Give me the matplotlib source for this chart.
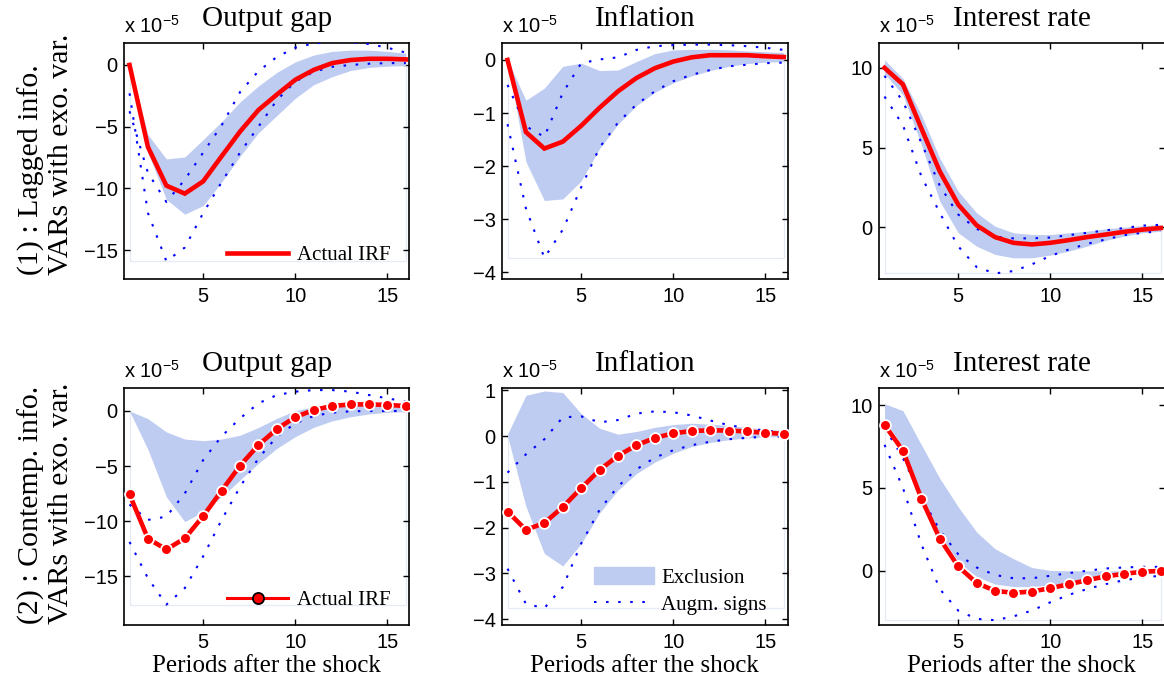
import numpy as np
import matplotlib
matplotlib.use("Agg")
import matplotlib.pyplot as plt
from matplotlib.lines import Line2D
from matplotlib.patches import Patch

plt.rcParams['font.family'] = ['Liberation Sans', 'DejaVu Sans']
plt.rcParams['mathtext.fontset'] = 'custom'
plt.rcParams['mathtext.rm'] = 'Liberation Sans'
plt.rcParams['mathtext.it'] = 'Liberation Sans:italic'
plt.rcParams['mathtext.bf'] = 'Liberation Sans:bold'

SERIF = ['Liberation Serif', 'DejaVu Serif']

# ---------------- data (units of 1e-5) ----------------
periods = np.arange(1, 17)
titles = ["Output gap", "Inflation", "Interest rate"]
row_labels = ["(1) : Lagged info.\nVARs with exo. var.",
              "(2) : Contemp. info.\nVARs with exo. var."]
xticks = [5, 10, 15]

# Row 1: lagged information
og_lag_irf = [0, -6.65, -9.78, -10.43, -9.43, -7.4, -5.4, -3.65, -2.4, -1.2, -0.4, 0.15, 0.4, 0.5, 0.5, 0.45]
og_lag_exhi = [0, -5.65, -7.62, -7.46, -6.05, -4.6, -3.0, -1.7, -0.6, 0.25, 0.8, 1.1, 1.2, 1.2, 1.1, 0.95]
og_lag_exlo = [0, -7.1, -10.9, -12.1, -11.4, -9.5, -7.4, -5.5, -4.1, -2.7, -1.6, -0.95, -0.45, -0.2, -0.1, -0.05]
og_lag_auhi = [-3.75, -8.75, -11.1, -9.3, -7.1, -4.9, -2.2, -0.5, 0.65, 1.4, 1.75, 1.85, 1.85, 1.7, 1.4, 1.0]
og_lag_aulo = [-2.3, -12.0, -15.9, -14.8, -12.0, -9.5, -7.1, -5.0, -2.85, -1.35, -0.55, -0.15, 0.0, 0.1, 0.15, 0.15]

pi_lag_irf = [0, -1.36, -1.67, -1.54, -1.24, -0.9, -0.59, -0.34, -0.155, -0.03, 0.05, 0.09, 0.09, 0.09, 0.07, 0.055]
pi_lag_exhi = [0, -0.76, -0.53, -0.12, -0.06, -0.2, -0.19, -0.03, 0.12, 0.19, 0.2, 0.2, 0.19, 0.17, 0.155, 0.14]
pi_lag_exlo = [0, -1.92, -2.65, -2.62, -2.28, -1.67, -1.21, -0.86, -0.61, -0.43, -0.3, -0.2, -0.12, -0.07, -0.04, -0.03]
pi_lag_auhi = [-0.47, -1.25, -1.45, -0.62, -0.06, 0.01, 0.05, 0.19, 0.26, 0.28, 0.29, 0.29, 0.28, 0.26, 0.23, 0.19]
pi_lag_aulo = [-1.21, -2.8, -3.73, -3.2, -2.4, -1.65, -1.18, -0.84, -0.59, -0.4, -0.28, -0.19, -0.12, -0.09, -0.06, -0.05]

ir_lag_irf = [10.0, 8.96, 6.2, 3.5, 1.42, 0.12, -0.62, -0.98, -1.08, -0.98, -0.81, -0.62, -0.46, -0.29, -0.15, -0.05]
ir_lag_exhi = [10.5, 9.33, 7.04, 4.33, 2.25, 0.9, 0.06, -0.35, -0.46, -0.46, -0.35, -0.25, -0.1, 0.0, 0.1, 0.17]
ir_lag_exlo = [9.65, 8.3, 5.17, 1.63, -0.35, -1.19, -1.71, -1.92, -1.92, -1.75, -1.5, -1.19, -0.83, -0.56, -0.35, -0.25]
ir_lag_auhi = [9.5, 7.9, 5.3, 2.6, 0.8, -0.1, -0.6, -0.7, -0.7, -0.65, -0.5, -0.35, -0.2, -0.05, 0.1, 0.15]
ir_lag_aulo = [8.2, 6.4, 3.2, 0.9, -1.2, -2.5, -2.9, -2.75, -2.33, -1.8, -1.4, -1.04, -0.77, -0.5, -0.35, -0.25]

# Row 2: contemporaneous information
og_con_irf = [-7.58, -11.6, -12.58, -11.58, -9.55, -7.24, -4.97, -3.09, -1.64, -0.55, 0.09, 0.45, 0.6, 0.6, 0.55, 0.45]
og_con_exhi = [0, -0.7, -1.9, -2.55, -2.7, -2.55, -2.2, -1.5, -0.67, 0.03, 0.4, 0.55, 0.55, 0.48, 0.4, 0.3]
og_con_exlo = [0, -3.5, -7.8, -10.06, -9.15, -7.8, -6.27, -4.76, -3.4, -2.33, -1.48, -0.9, -0.52, -0.27, -0.12, -0.06]
og_con_auhi = [-8.5, -9.9, -9.6, -7.5, -4.45, -2.3, -0.67, 0.7, 1.45, 1.76, 1.9, 1.9, 1.76, 1.45, 1.15, 0.85]
og_con_aulo = [-11.9, -15.2, -17.6, -16.1, -13.2, -9.9, -6.9, -4.3, -2.33, -1.12, -0.45, -0.15, -0.03, 0.0, 0.0, 0.0]

pi_con_irf = [-1.65, -2.05, -1.9, -1.55, -1.14, -0.74, -0.43, -0.2, -0.04, 0.06, 0.11, 0.125, 0.12, 0.1, 0.07, 0.05]
pi_con_exhi = [0.04, 0.89, 0.985, 0.95, 0.49, 0.17, 0.04, 0.1, 0.19, 0.25, 0.28, 0.26, 0.23, 0.19, 0.15, 0.12]
pi_con_exlo = [0, -1.54, -2.57, -2.84, -2.35, -1.68, -1.18, -0.82, -0.57, -0.375, -0.23, -0.14, -0.08, -0.04, -0.02, -0.01]
pi_con_auhi = [-0.8, -0.4, -0.07, 0.41, 0.43, 0.3, 0.35, 0.49, 0.54, 0.52, 0.45, 0.34, 0.24, 0.17, 0.12, 0.08]
pi_con_aulo = [-2.9, -3.67, -3.76, -3.3, -2.35, -1.61, -1.1, -0.73, -0.47, -0.31, -0.2, -0.125, -0.07, -0.04, -0.015, -0.01]

ir_con_irf = [8.81, 7.25, 4.36, 1.94, 0.26, -0.73, -1.21, -1.33, -1.25, -1.05, -0.81, -0.57, -0.34, -0.18, -0.06, 0.0]
ir_con_exhi = [10.08, 9.66, 7.6, 5.58, 3.86, 2.34, 1.33, 0.73, 0.2, 0.02, 0.0, 0.0, 0.0, 0.0, 0.0, 0.0]
ir_con_exlo = [9.1, 7.5, 4.6, 2.2, 0.55, -0.35, -0.8, -0.95, -0.95, -0.85, -0.7, -0.52, -0.38, -0.27, -0.18, -0.1]
ir_con_auhi = [8.65, 6.8, 4.46, 2.44, 1.0, 0.2, -0.25, -0.45, -0.45, -0.3, -0.14, 0.0, 0.14, 0.2, 0.24, 0.24]
ir_con_aulo = [7.6, 5.0, 1.6, -1.1, -2.4, -2.9, -2.98, -2.75, -2.4, -1.9, -1.45, -1.1, -0.8, -0.57, -0.4, -0.3]

panels = [
    [(og_lag_irf, og_lag_exlo, og_lag_exhi, og_lag_aulo, og_lag_auhi),
     (pi_lag_irf, pi_lag_exlo, pi_lag_exhi, pi_lag_aulo, pi_lag_auhi),
     (ir_lag_irf, ir_lag_exlo, ir_lag_exhi, ir_lag_aulo, ir_lag_auhi)],
    [(og_con_irf, og_con_exlo, og_con_exhi, og_con_aulo, og_con_auhi),
     (pi_con_irf, pi_con_exlo, pi_con_exhi, pi_con_aulo, pi_con_auhi),
     (ir_con_irf, ir_con_exlo, ir_con_exhi, ir_con_aulo, ir_con_auhi)],
]
ylims = [[(-17.35, 1.78), (-4.13, 0.32), (-3.25, 11.56)],
         [(-19.45, 2.09), (-4.13, 1.05), (-3.27, 11.03)]]
yticks = [[[-15, -10, -5, 0], [-4, -3, -2, -1, 0], [0, 5, 10]],
          [[-15, -10, -5, 0], [-4, -3, -2, -1, 0, 1], [0, 5, 10]]]

# ---------------- styling ----------------
W, H = 1164, 686
BAND = '#BFCCF1'
FAINT = '#E6EAF7'
RED = '#FF0000'
BLUE = '#0000FF'
DOT = (0, (1.2, 4.6))
DOT_LW = 1.5

fig = plt.figure(figsize=(W / 100, H / 100), dpi=100)

col_left = [124, 502, 879]
row_top = [43, 388]
row_h = [236, 237]
ax_w = 285.5

for r in range(2):
    for c in range(3):
        irf, exlo, exhi, aulo, auhi = [np.asarray(a) for a in panels[r][c]]
        l = col_left[c]
        t = row_top[r]
        h = row_h[r]
        ax = fig.add_axes([l / W, 1 - (t + h) / H, ax_w / W, h / H])

        base = min(exlo.min(), aulo.min(), auhi.min())
        # faint outline of the underlying area (MATLAB artefact)
        ax.plot([periods[0], periods[0], periods[-1], periods[-1]],
                [exlo[0], base, base, exlo[-1]], color=FAINT, lw=0.9, zorder=1)
        ax.fill_between(periods, exlo, exhi, color=BAND, lw=0, zorder=2)
        ax.plot(periods, auhi, color=BLUE, lw=DOT_LW, ls=DOT, zorder=3)
        ax.plot(periods, aulo, color=BLUE, lw=DOT_LW, ls=DOT, zorder=3)
        if r == 0:
            ax.plot(periods, irf, color=RED, lw=3.3, zorder=4,
                    solid_joinstyle='miter')
        else:
            ax.plot(periods, irf, color=RED, lw=3.3, marker='o', ms=7.8,
                    mfc=RED, mec='white', mew=1.3, zorder=4)

        ax.set_xlim(0.7, 16.2)
        ax.set_ylim(*ylims[r][c])
        ax.set_xticks(xticks)
        ax.set_yticks(yticks[r][c])
        ax.tick_params(direction='in', length=4, width=1, top=True, right=True,
                       labelsize=14.5, colors='black')
        ax.tick_params(axis='x', pad=6)
        ax.tick_params(axis='y', pad=4.5)
        for s in ax.spines.values():
            s.set_linewidth(1.2)
            s.set_color('black')

        ax.set_title(titles[c], fontfamily=SERIF, fontsize=21, pad=12)
        ax.annotate('x 10$^{-5}$', xy=(0, 1), xycoords='axes fraction',
                    xytext=(0, 7.5), textcoords='offset points',
                    ha='left', va='baseline', fontsize=14.5)
        if r == 1:
            ax.set_xlabel('Periods after the shock', fontfamily=SERIF,
                          fontsize=18, labelpad=2)

        if c == 0:
            if r == 0:
                h_irf = Line2D([], [], color=RED, lw=3.3)
                yb = 0.059
            else:
                h_irf = Line2D([], [], color=RED, lw=2.2, marker='o', ms=8,
                               mfc=RED, mec='black', mew=1.3)
                yb = 0.063
            ax.legend([h_irf], ['Actual IRF'], loc='lower right',
                      bbox_to_anchor=(0.933, yb), frameon=False,
                      borderpad=0, borderaxespad=0, handlelength=2.9,
                      handletextpad=0.43, prop={'family': SERIF, 'size': 15})
        if r == 1 and c == 1:
            h_ex = Patch(facecolor=BAND, edgecolor=BAND)
            h_au = Line2D([], [], color=BLUE, lw=DOT_LW, ls=DOT)
            ax.legend([h_ex, h_au], ['Exclusion', 'Augm. signs'], loc='lower right',
                      bbox_to_anchor=(0.927, 0.042), frameon=False,
                      borderpad=0, borderaxespad=0, handlelength=2.9,
                      handleheight=0.9, handletextpad=0.34, labelspacing=0.3,
                      prop={'family': SERIF, 'size': 15})

# row labels
for r, ybot in enumerate([275, 624]):
    fig.text(46 / W, 1 - ybot / H, row_labels[r], rotation=90, ha='center',
             va='bottom', multialignment='left', fontfamily=SERIF,
             fontsize=21.5, linespacing=1.15)

fig.savefig('out.png', dpi=100)
